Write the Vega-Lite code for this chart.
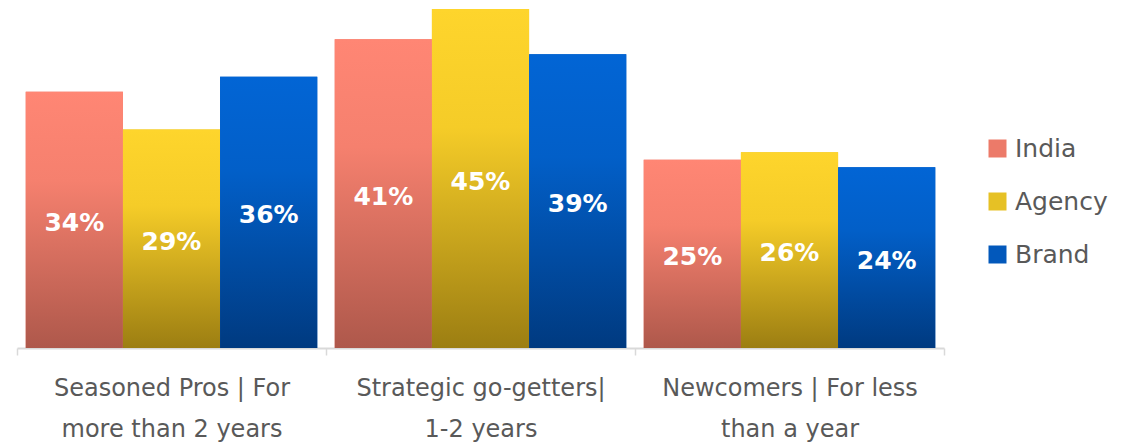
{
  "$schema": "https://vega.github.io/schema/vega-lite/v6.json",
  "width": 927,
  "height": 339,
  "autosize": {"type": "none"},
  "padding": {"left": 17, "top": 9, "right": 195, "bottom": 98},
  "background": "white",
  "config": {"view": {"stroke": null}},
  "data": {
    "values": [
      {"group": "Seasoned Pros | For~more than 2 years", "series": "India", "value": 0.34},
      {"group": "Seasoned Pros | For~more than 2 years", "series": "Agency", "value": 0.29},
      {"group": "Seasoned Pros | For~more than 2 years", "series": "Brand", "value": 0.36},
      {"group": "Strategic go-getters|~1-2 years", "series": "India", "value": 0.41},
      {"group": "Strategic go-getters|~1-2 years", "series": "Agency", "value": 0.45},
      {"group": "Strategic go-getters|~1-2 years", "series": "Brand", "value": 0.39},
      {"group": "Newcomers | For less~than a year", "series": "India", "value": 0.25},
      {"group": "Newcomers | For less~than a year", "series": "Agency", "value": 0.26},
      {"group": "Newcomers | For less~than a year", "series": "Brand", "value": 0.24}
    ]
  },
  "encoding": {
    "x": {
      "field": "group", "type": "nominal", "sort": null,
      "scale": {"paddingInner": 0, "paddingOuter": 0},
      "axis": {
        "title": null, "labelAngle": 0,
        "labelExpr": "split(datum.label, '~')",
        "labelFont": "DejaVu Sans", "labelFontSize": 24, "labelColor": "#595959",
        "labelLineHeight": 41, "labelPadding": 21, "labelLimit": 400,
        "tickBand": "extent", "tickSize": 7, "tickColor": "#d9d9d9", "tickWidth": 1.5,
        "domainColor": "#d9d9d9", "domainWidth": 2
      }
    },
    "xOffset": {"field": "series", "type": "nominal", "sort": ["India", "Agency", "Brand"], "scale": {"paddingInner": 0, "paddingOuter": 0.09}},
    "y": {"field": "value", "type": "quantitative", "scale": {"domain": [0, 0.45], "nice": false}, "axis": null}
  },
  "layer": [
    {
      "mark": {"type": "bar"},
      "encoding": {
        "color": {
          "field": "series", "type": "nominal", "sort": ["India", "Agency", "Brand"],
          "scale": {"domain": ["India", "Agency", "Brand"], "range": ["#EC7A69", "#E6C125", "#0258BB"]},
          "legend": {
            "title": null, "orient": "none", "legendX": 968, "legendY": 127,
            "symbolType": "square", "symbolSize": 324, "symbolStrokeWidth": 0, "symbolOpacity": 1,
            "labelFont": "DejaVu Sans", "labelFontSize": 25, "labelColor": "#595959",
            "rowPadding": 27, "labelOffset": 5
          }
        }
      }
    },
    {
      "transform": [{"filter": "datum.series === 'India'"}],
      "mark": {"type": "bar", "color": {"gradient": "linear", "x1": 0, "y1": 0, "x2": 0, "y2": 1, "stops": [{"offset": 0, "color": "#FF8674"}, {"offset": 0.35, "color": "#F5806E"}, {"offset": 1, "color": "#AE584B"}]}}
    },
    {
      "transform": [{"filter": "datum.series === 'Agency'"}],
      "mark": {"type": "bar", "color": {"gradient": "linear", "x1": 0, "y1": 0, "x2": 0, "y2": 1, "stops": [{"offset": 0, "color": "#FED52C"}, {"offset": 0.35, "color": "#F5CC28"}, {"offset": 1, "color": "#9C7E12"}]}}
    },
    {
      "transform": [{"filter": "datum.series === 'Brand'"}],
      "mark": {"type": "bar", "color": {"gradient": "linear", "x1": 0, "y1": 0, "x2": 0, "y2": 1, "stops": [{"offset": 0, "color": "#0265D5"}, {"offset": 0.35, "color": "#025FC8"}, {"offset": 1, "color": "#003A80"}]}}
    },
    {
      "mark": {"type": "text", "color": "white", "font": "DejaVu Sans", "fontWeight": "bold", "fontSize": 25, "baseline": "middle", "dy": 3},
      "encoding": {
        "y": {"field": "value", "type": "quantitative", "scale": {"domain": [0, 0.9], "nice": false}, "axis": null},
        "text": {"field": "value", "type": "quantitative", "format": ".0%", "formatType": "number"},
        "detail": {"field": "series"}
      }
    }
  ],
  "resolve": {"scale": {"y": "independent"}}
}
